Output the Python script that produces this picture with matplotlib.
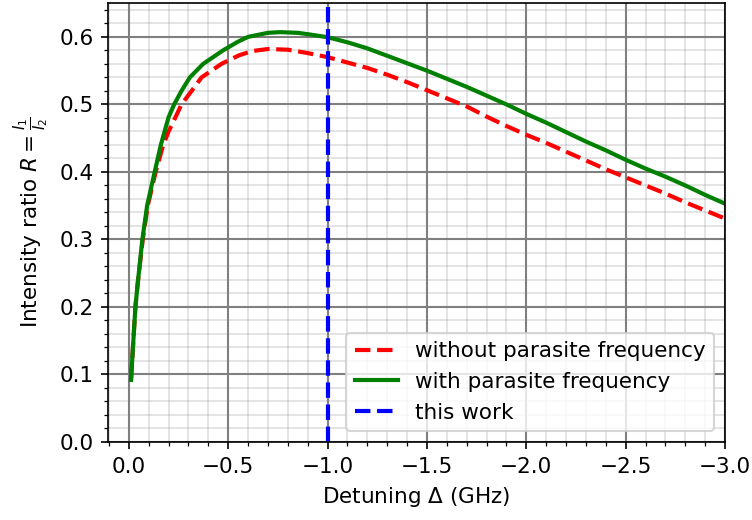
import matplotlib
matplotlib.use('Agg')
import matplotlib.pyplot as plt
from matplotlib.ticker import MultipleLocator, AutoMinorLocator

# Detuning (GHz) and intensity ratio
det_without = [-0.011, -0.02, -0.033, -0.045, -0.07, -0.095, -0.135, -0.173,
               -0.2, -0.233, -0.265, -0.316, -0.366, -0.466, -0.553, -0.62,
               -0.7, -0.8, -0.9, -1.0, -1.1, -1.2, -1.3, -1.4, -1.5, -1.6,
               -1.7, -1.8, -1.9, -2.0, -2.1, -2.2, -2.3, -2.4, -2.5, -2.6,
               -2.7, -2.8, -2.9, -3.0]
r_without = [0.092, 0.137, 0.200, 0.236, 0.300, 0.350, 0.400, 0.440,
             0.460, 0.480, 0.500, 0.520, 0.540, 0.560, 0.5725, 0.579,
             0.582, 0.581, 0.576, 0.570, 0.562, 0.554, 0.544, 0.533, 0.521,
             0.509, 0.497, 0.482, 0.468, 0.455, 0.443, 0.430, 0.417, 0.404,
             0.392, 0.380, 0.368, 0.355, 0.343, 0.331]

det_with = [-0.011, -0.02, -0.033, -0.045, -0.068, -0.092, -0.13, -0.161,
            -0.18, -0.2, -0.228, -0.265, -0.307, -0.374, -0.474, -0.55, -0.6,
            -0.7, -0.76, -0.85, -0.9, -1.0, -1.1, -1.2, -1.3, -1.4, -1.5,
            -1.6, -1.7, -1.8, -1.9, -2.0, -2.1, -2.2, -2.3, -2.4, -2.5, -2.6,
            -2.7, -2.8, -2.9, -3.0]
r_with = [0.092, 0.137, 0.200, 0.236, 0.300, 0.350, 0.400, 0.440,
          0.460, 0.481, 0.500, 0.520, 0.540, 0.560, 0.580, 0.593, 0.600,
          0.606, 0.607, 0.606, 0.604, 0.5995, 0.592, 0.583, 0.572, 0.561,
          0.550, 0.538, 0.526, 0.513, 0.500, 0.486, 0.473, 0.459, 0.445,
          0.432, 0.418, 0.405, 0.393, 0.380, 0.366, 0.353]

this_work = -1.0

plt.rcParams['font.size'] = 10.3
fig, ax = plt.subplots(figsize=(753 / 150, 520 / 150), dpi=150)
fig.subplots_adjust(left=0.1434, right=0.9628, bottom=0.15, top=0.994)

ax.plot(det_without, r_without, 'r--', lw=2, label='without parasite frequency')
ax.plot(det_with, r_with, 'g-', lw=2, label='with parasite frequency')
ax.axvline(this_work, color='b', ls='--', lw=2, label='this work')

ax.set_xlim(0.105, -3.0)
ax.set_ylim(0, 0.65)
ax.xaxis.set_major_locator(MultipleLocator(0.5))
ax.xaxis.set_minor_locator(AutoMinorLocator(5))
ax.yaxis.set_major_locator(MultipleLocator(0.1))
ax.yaxis.set_minor_locator(AutoMinorLocator(5))

# minor grid translucent so the major lines stay unbroken where they cross
ax.grid(which='major', color='gray', lw=1)
ax.grid(which='minor', color='gray', alpha=0.22, lw=0.9)
ax.set_axisbelow(True)

ax.set_xlabel(r'Detuning $\Delta$ (GHz)')
ax.set_ylabel(r'Intensity ratio $R = \frac{I_1}{I_2}$')
ax.legend(loc='lower right')

fig.savefig('out.png', dpi=150)
